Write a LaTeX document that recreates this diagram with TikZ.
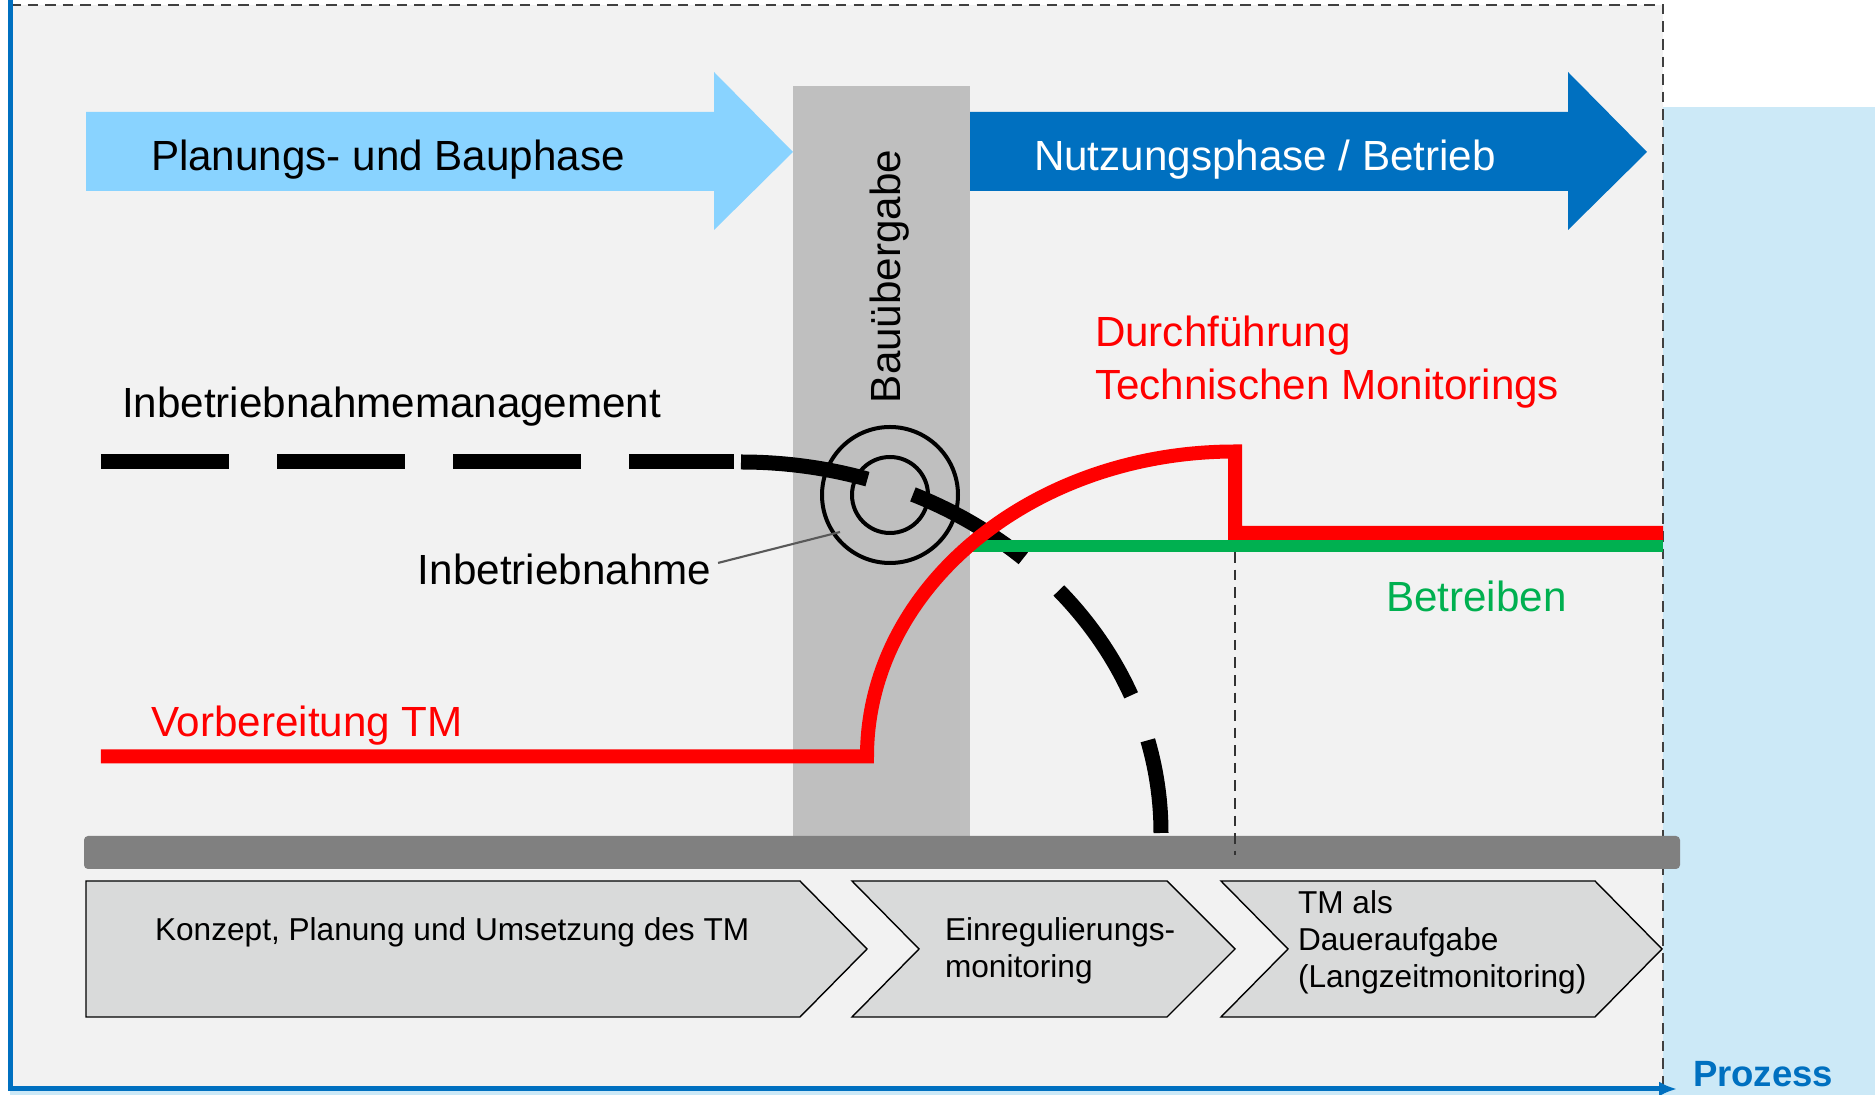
\documentclass[tikz,border=0pt]{standalone}
\usepackage{fontspec}
\setmainfont{Liberation Sans}
\usetikzlibrary{arrows.meta}
\definecolor{lightarrow}{RGB}{137,211,255}
\definecolor{darkblue}{RGB}{0,112,192}
\definecolor{paleblue}{RGB}{204,233,247}
\definecolor{panelgray}{RGB}{242,242,242}
\definecolor{colgray}{RGB}{191,191,191}
\definecolor{bargray}{RGB}{128,128,128}
\definecolor{chevgray}{RGB}{217,218,218}
\definecolor{tmgreen}{RGB}{0,176,80}
\begin{document}
\begin{tikzpicture}[>={Latex[length=1.8mm,width=1.5mm]},
  every node/.style={inner sep=0pt,outer sep=0pt},
  big/.style={font=\fontsize{12}{13.9}\selectfont},
  small/.style={font=\fontsize{9}{10.5}\selectfont,align=left},
  chev/.style={fill=chevgray,draw=black,line width=0.4pt},
  imdash/.style={line width=0.15cm,dash pattern=on 1.28cm off 0.48cm}]
        \useasboundingbox (0,0) rectangle (18.75,-10.95);
        \fill [paleblue] (0.10,-1.07) rectangle (18.75,-10.95);
        \fill [panelgray] (0.10,-0.05) rectangle (16.63,-10.89);
        \draw [black!75,densely dashed,line width=0.5pt] (0.10,-0.05) -- (16.63,-0.05) -- (16.63,-10.89);

        \fill [colgray] (7.93,-0.86) rectangle (9.70,-8.36);
        \fill [lightarrow] (0.86,-1.12) -- (7.14,-1.12) -- (7.14,-0.72) -- (7.93,-1.52) -- (7.14,-2.30) -- (7.14,-1.91) -- (0.86,-1.91) -- cycle;
        \fill [darkblue] (9.70,-1.12) -- (15.68,-1.12) -- (15.68,-0.72) -- (16.47,-1.52) -- (15.68,-2.30) -- (15.68,-1.91) -- (9.70,-1.91) -- cycle;
        \node [big,anchor=base west] at (1.51,-1.71) (plan) {Planungs- und Bauphase};
        \node [big,anchor=base west,text=white] at (10.34,-1.71) (nutz) {Nutzungsphase / Betrieb};
        \node [big,rotate=90,anchor=base] at (9.00,-2.765) (uebergabe) {Bauübergabe};

        \draw [imdash] (1.01,-4.62) -- (7.34,-4.62);
        \draw [imdash] (7.41,-4.62) arc [start angle=90,end angle=0,x radius=4.20,y radius=3.71];

        \fill [bargray,rounded corners=0.04cm] (0.84,-8.36) rectangle (16.80,-8.69);
        \draw [chev] (0.86,-8.81) -- (8.00,-8.81) -- (8.67,-9.49) -- (8.00,-10.17) -- (0.86,-10.17) -- cycle;
        \draw [chev] (8.52,-8.81) -- (11.67,-8.81) -- (12.35,-9.49) -- (11.67,-10.17) -- (8.52,-10.17) -- (9.19,-9.49) -- cycle;
        \draw [chev] (12.21,-8.81) -- (15.95,-8.81) -- (16.62,-9.49) -- (15.95,-10.17) -- (12.21,-10.17) -- (12.88,-9.49) -- cycle;
        \node [small,anchor=base west] at (1.55,-9.41) (konzept) {Konzept, Planung und Umsetzung des TM};
        \node [small,anchor=west] at (9.45,-9.505) (einreg) {Einregulierungs-\\monitoring};
        \node [small,anchor=west] at (12.98,-9.42) (dauer) {TM als\\Daueraufgabe\\(Langzeitmonitoring)};

        \node [draw,circle,line width=0.04cm,minimum size=1.36cm] at (8.90,-4.95) (ring) {};
        \node [draw,circle,line width=0.04cm,minimum size=0.76cm] at (ring.center) (core) {};
        \coordinate (ringpt) at (8.40,-5.32);

        \draw [tmgreen,line width=0.12cm] (9.70,-5.46) -- (16.63,-5.46);
        \draw [red,line width=0.14cm] (1.01,-7.565) -- (8.67,-7.565) arc [start angle=180,end angle=90,x radius=3.68,y radius=3.05] -- (12.35,-5.33) -- (16.63,-5.33);
        \draw [black!80,densely dashed,line width=0.5pt] (12.35,-5.52) -- (12.35,-8.55);

        \draw [darkblue,line width=0.05cm,->] (0.10,0) -- (0.10,-10.89) -- (16.77,-10.89);
        \node [font=\fontsize{10.4}{12}\selectfont\bfseries,text=darkblue,anchor=base west] at (16.93,-10.87) (proz) {Prozess};

        \node [big,anchor=base west] at (1.22,-4.18) (ibm) {Inbetriebnahmemanagement};
        \node [big,anchor=base west] at (4.18,-5.85) (ibn) {Inbetriebnahme};
        \draw [black!65,line width=0.6pt] ([xshift=0.07cm,yshift=0.07cm]ibn.east) -- (ringpt);
        \node [big,anchor=base west,text=red] at (1.51,-7.37) (vorb) {Vorbereitung TM};
        \node [big,anchor=west,text=red,align=left] at (10.95,-3.62) (durch) {Durchführung\\[1.4pt]Technischen Monitorings};
        \node [big,anchor=base west,text=tmgreen] at (13.86,-6.12) (betr) {Betreiben};
\end{tikzpicture}
\end{document}
